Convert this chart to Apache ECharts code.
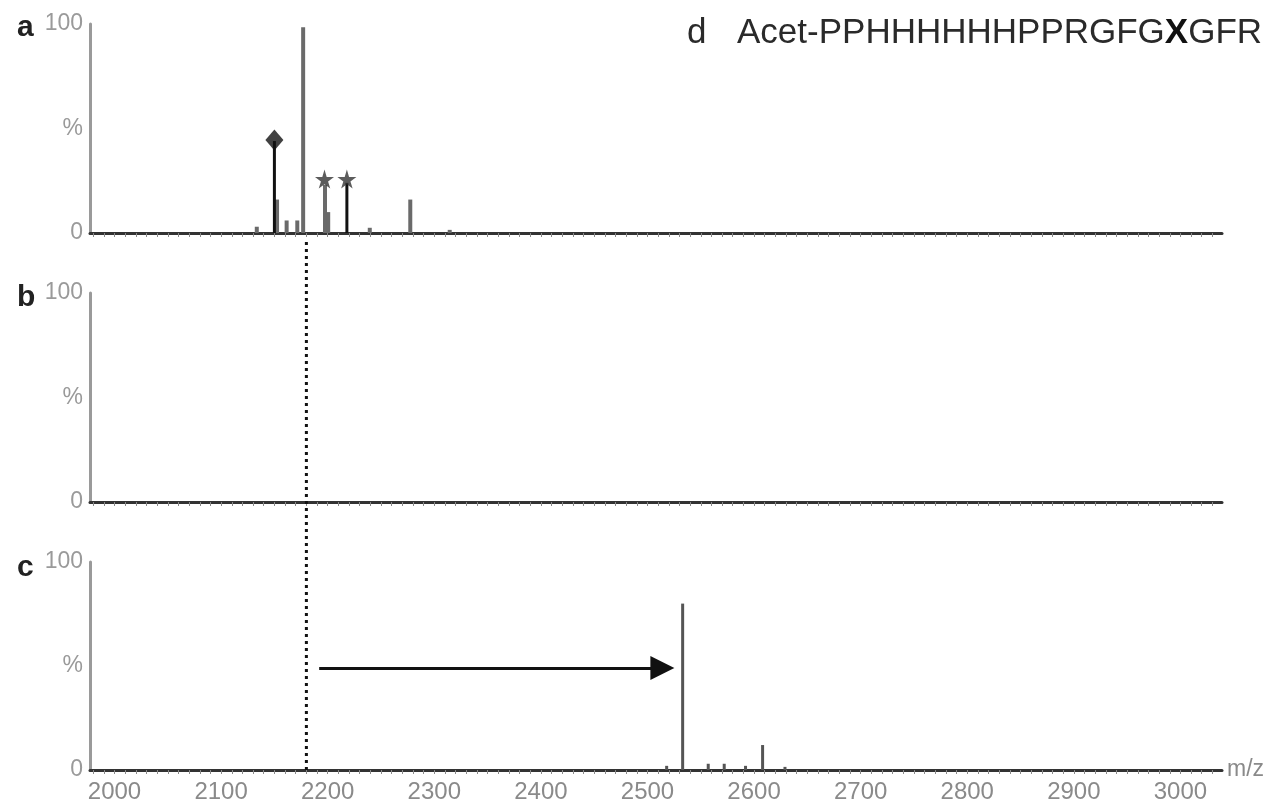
<!DOCTYPE html>
<html>
<head>
<meta charset="utf-8">
<script src="https://cdn.jsdelivr.net/npm/echarts@6/dist/echarts.min.js"></script>
<style>
html,body{margin:0;padding:0;background:#fff;}
#chart{width:1277px;height:807px;}
</style>
</head>
<body>
<div id="chart"></div>
<script>
// ---- data ----
const mzRange = [1977, 3039];
const xTickLabels = [2000, 2100, 2200, 2300, 2400, 2500, 2600, 2700, 2800, 2900, 3000];
const yTickLabels = {0: '0', 50: '%', 100: '100'};

// panel a (gray and black sticks)
const aGrayMz  = [2133, 2152, 2161, 2171, 2176.5, 2197, 2200, 2239, 2277, 2314];
const aGrayInt = [3, 16, 6, 6, 98.5, 23, 10, 2.5, 16, 1.5];
const aBlackMz  = [2150, 2218];
const aBlackInt = [44, 24];
const aDiamond = [[2150, 44.5]];
const aStars = [[2197, 25.8], [2218, 25.8]];

// panel c
const cMz  = [2518, 2533, 2557, 2572, 2592, 2608, 2629];
const cInt = [2, 80, 3, 3, 2, 12, 1.5];
const cArrowFrom = [2192, 49];
const cArrowTo = [2514, 49];

// dotted reference line
const refMz = 2180;

const sequenceParts = ['Acet-PPHHHHHHPPRGFG', 'X', 'GFR'];

// ---- helpers ----
const zip = (xs, ys) => xs.map((x, i) => [x, ys[i]]);
const tickVals = [];
for (let v = 1980; v <= 3030; v += 10) tickVals.push(v);

const L = 90, R = 1277 - 1222;
const grids = [
  {left: L, right: R, top: 24, height: 209},
  {left: L, right: R, top: 293, height: 209},
  {left: L, right: R, top: 562, height: 208},
  {left: L, right: R, top: 238, height: 532}
];

function xAxis(i, withLabels) {
  return {
    type: 'value', gridIndex: i, min: mzRange[0], max: mzRange[1],
    show: i !== 3,
    splitLine: {show: false},
    axisLine: {show: true, onZero: false, lineStyle: {color: '#333', width: 3}},
    axisTick: {show: true, customValues: tickVals, length: 4, lineStyle: {color: '#888', width: 1}},
    axisLabel: {show: withLabels, customValues: xTickLabels, fontFamily: 'Liberation Sans', fontSize: 24,
      color: '#8a8a8a', margin: 10, formatter: v => String(v)},
    name: withLabels ? 'm/z' : '',
    nameLocation: 'end', nameGap: 5,
    nameTextStyle: {fontFamily: 'Liberation Sans', fontSize: 23, color: '#8a8a8a', padding: [0,0,4,0]}
  };
}
function yAxis(i) {
  if (i === 3) return {type: 'value', gridIndex: 3, min: 0, max: 1, show: false};
  return {
    type: 'value', gridIndex: i, min: 0, max: 100, interval: 50,
    splitLine: {show: false},
    axisLine: {show: true, lineStyle: {color: '#9a9a9a', width: 3}},
    axisTick: {show: false},
    axisLabel: {fontFamily: 'Liberation Sans', fontSize: 23, color: '#9a9a9a', margin: 7,
      formatter: v => yTickLabels[v] !== undefined ? yTickLabels[v] : ''}
  };
}

const starPath = 'path://M50,0 L61,35 L98,35 L68,57 L79,91 L50,70 L21,91 L32,57 L2,35 L39,35 Z';
const labelStyle = {fontFamily: 'Liberation Sans', fontWeight: 'bold', fontSize: 30, color: '#222'};
const seqStyle = {fontFamily: 'Liberation Sans', fontWeight: 'normal', fontSize: 35, color: '#2a2a2a'};

const option = {
  backgroundColor: '#fff',
  animation: false,
  title: [
    {text: 'a', left: 12, top: 8, textStyle: labelStyle},
    {text: 'b', left: 12, top: 278, textStyle: labelStyle},
    {text: 'c', left: 12, top: 548, textStyle: labelStyle},
    {text: 'd', left: 682, top: 11, textStyle: seqStyle},
    {text: '{s|' + sequenceParts[0] + '}{x|' + sequenceParts[1] + '}{s|' + sequenceParts[2] + '}',
      left: 732, top: 11,
      textStyle: {rich: {s: seqStyle, x: Object.assign({}, seqStyle, {fontWeight: 'bold', color: '#111'})}}}
  ],
  grid: grids,
  xAxis: [xAxis(0, false), xAxis(1, false), xAxis(2, true), xAxis(3, false)],
  yAxis: [yAxis(0), yAxis(1), yAxis(2), yAxis(3)],
  series: [
    {type: 'bar', xAxisIndex: 0, yAxisIndex: 0, barWidth: 4, barGap: '-100%',
      itemStyle: {color: '#6a6a6a'}, data: zip(aGrayMz, aGrayInt)},
    {type: 'bar', xAxisIndex: 0, yAxisIndex: 0, barWidth: 3, barGap: '-100%',
      itemStyle: {color: '#111'}, data: zip(aBlackMz, aBlackInt)},
    {type: 'scatter', xAxisIndex: 0, yAxisIndex: 0, symbol: 'diamond', symbolSize: [18, 21],
      itemStyle: {color: '#111'}, data: aDiamond},
    {type: 'scatter', xAxisIndex: 0, yAxisIndex: 0, symbol: starPath, symbolSize: 19,
      itemStyle: {color: '#333'}, data: aStars},
    {type: 'bar', xAxisIndex: 2, yAxisIndex: 2, barWidth: 3,
      itemStyle: {color: '#555'}, data: zip(cMz, cInt),
      markLine: {
        silent: true, symbol: ['none', 'triangle'], symbolSize: 24,
        lineStyle: {color: '#111', width: 3, type: 'solid'}, label: {show: false},
        data: [[{coord: cArrowFrom}, {coord: cArrowTo}]]
      }},
    {type: 'line', xAxisIndex: 3, yAxisIndex: 3, symbol: 'none',
      lineStyle: {color: '#111', width: 3, type: [3, 4]},
      data: [[refMz, 0], [refMz, 1]]}
  ]
};

const chart = echarts.init(document.getElementById('chart'));
chart.setOption(option);
</script>
</body>
</html>
